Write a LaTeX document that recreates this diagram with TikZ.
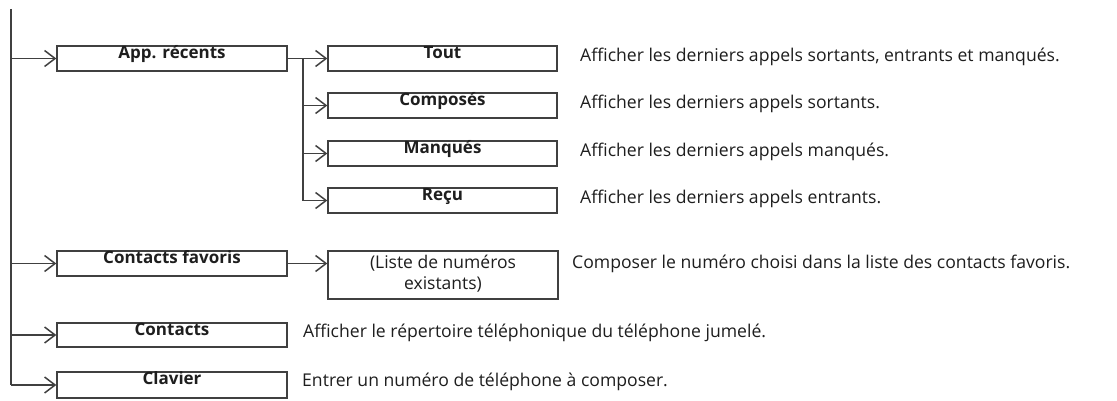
\documentclass[tikz,border=0pt]{standalone}
\usepackage{fontspec}
\setmainfont{Open Sans}
\usetikzlibrary{arrows.meta}
\definecolor{linec}{HTML}{404040}
\definecolor{textc}{HTML}{1E1E1E}
\tikzset{
  box/.style={draw=linec, line width=1.4pt, minimum height=25pt, inner sep=0pt, fill=white},
  boxa/.style={box, minimum width=230pt},
  boxb/.style={box, minimum width=229pt},
  lbl/.style={anchor=base, inner sep=0pt, text=textc, font=\fontsize{17}{20}\selectfont\bfseries},
  desc/.style={anchor=base west, inner sep=0pt, text=textc, font=\fontsize{17.6}{21}\selectfont},
  wire/.style={draw=linec, line width=1.4pt},
  arr/.style={wire, -{Straight Barb[length=10.5pt,width=16pt,line width=1.5pt]}},
}
\begin{document}
\begin{tikzpicture}[x=1pt,y=-1pt]
\useasboundingbox[fill=white] (0,0) rectangle (1117,401);
% level-1 boxes
\node[boxa] (app)  at (172,58.5) {};
\node[boxa] (fav)  at (172,263.5) {};
\node[boxa, minimum height=24pt] (cont) at (172,335) {};
\node[boxa, minimum height=26pt] (clav) at (172,385) {};
% level-2 boxes
\node[boxb] (tout) at (442.5,58.5) {};
\node[boxb] (comp) at (442.5,105.5) {};
\node[boxb] (manq) at (442.5,153.5) {};
\node[boxb] (recu) at (442.5,200.5) {};
\node[boxa, minimum height=48pt] (liste) at (443,275) {};
% box labels
\node[lbl] (tapp)  at ([yshift=-13.5pt]app.north)  {App. récents};
\node[lbl] (tfav)  at ([yshift=-13.5pt]fav.north)  {Contacts favoris};
\node[lbl] (tcont) at ([yshift=-13.5pt]cont.north) {Contacts};
\node[lbl] (tclav) at ([yshift=-13.5pt]clav.north) {Clavier};
\node[lbl] (ttout) at ([yshift=-13.5pt]tout.north) {Tout};
\node[lbl] (tcomp) at ([yshift=-13.5pt]comp.north) {Composés};
\node[lbl] (tmanq) at ([yshift=-13.5pt]manq.north) {Manqués};
\node[lbl] (trecu) at ([yshift=-13.5pt]recu.north) {Reçu};
\node[lbl, font=\fontsize{17.5}{21}\selectfont] (tl1) at (443,268) {(Liste de numéros};
\node[lbl, font=\fontsize{17.5}{21}\selectfont] (tl2) at (443,289) {existants)};
% descriptions
\node[desc] (dtout) at (580,61.5)  {Afficher les derniers appels sortants, entrants et manqués.};
\node[desc] (dcomp) at (580,108.5) {Afficher les derniers appels sortants.};
\node[desc] (dmanq) at (580,156.5) {Afficher les derniers appels manqués.};
\node[desc] (drecu) at (580,203.5) {Afficher les derniers appels entrants.};
\node[desc] (dfav)  at (572,268)   {Composer le numéro choisi dans la liste des contacts favoris.};
\node[desc] (dcont) at (303,337)   {Afficher le répertoire téléphonique du téléphone jumelé.};
\node[desc] (dclav) at (302,386)   {Entrer un numéro de téléphone à composer.};
% trunk
\coordinate (top) at (11,9);
\draw[wire] (top) -- (top |- clav.west);
\draw[arr] (top |- app.west)  -- (app.west);
\draw[arr] (top |- fav.west)  -- (fav.west);
\draw[arr] (top |- cont.west) -- (cont.west);
\draw[arr] (top |- clav.west) -- (clav.west);
% sub branch
\coordinate (br) at (303,58.5);
\draw[arr] (app.east) -- (tout.west);
\draw[wire] (br) -- (br |- recu.west);
\draw[arr] (br |- comp.west) -- (comp.west);
\draw[arr] (br |- manq.west) -- (manq.west);
\draw[arr] (br |- recu.west) -- (recu.west);
\draw[arr] (fav.east) -- (fav.east -| liste.west);
\end{tikzpicture}
\end{document}
